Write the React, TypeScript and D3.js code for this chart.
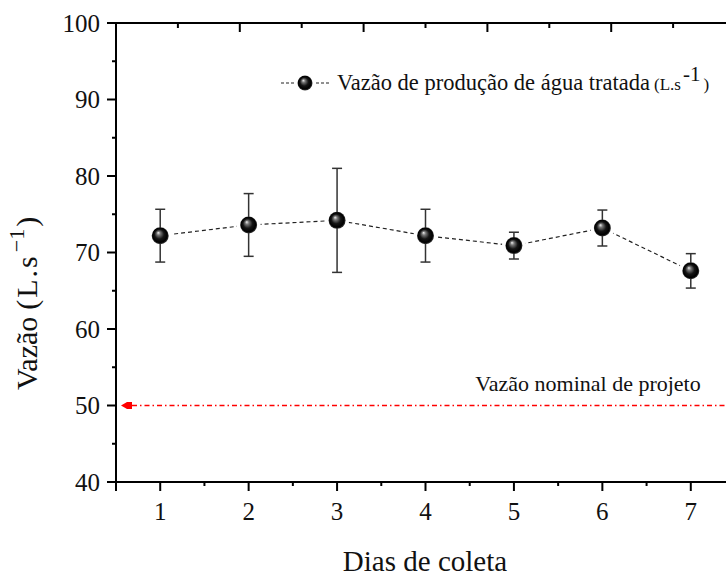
import React from 'react';
import * as d3 from 'd3';

// dias de coleta e vazão média (L/s) com desvio
const days = [1, 2, 3, 4, 5, 6, 7];
const flowMean = [72.2, 73.6, 74.2, 72.2, 70.9, 73.2, 67.6];
const flowErr = [3.45, 4.1, 6.8, 3.45, 1.75, 2.35, 2.25];
const nominalFlow = 50;
const yTicks = [40, 50, 60, 70, 80, 90, 100];

const W = 726;
const H = 576;
const serif = '"Liberation Serif", "Times New Roman", serif';

const App = () => {
  const margin = { left: 116, right: 735, top: 23, bottom: 482 };

  const x = d3.scaleLinear().domain([0.5, 7.5]).range([margin.left, margin.right]);
  const y = d3.scaleLinear().domain([40, 100]).range([margin.bottom, margin.top]);
  // top axis in the original uses its own spacing
  const xTop = d3.scaleLinear().domain([0, 5]).range([margin.left, margin.right]);

  const points = days.map((d, i) => ({ d, v: flowMean[i], e: flowErr[i] }));
  const line = d3
    .line<{ d: number; v: number }>()
    .x((p) => x(p.d))
    .y((p) => y(p.v));

  const yMinor = d3.range(45, 100, 10);
  const xMinor = d3.range(0.5, 7.6, 1);
  const topMajor = [1, 2, 3, 4];
  const topMinor = d3.range(0.5, 5, 1);
  const y50 = y(nominalFlow);
  const x0 = x(0.5);

  return (
    <svg
      width={W}
      height={H}
      style={{ position: 'absolute', left: 0, top: 0, background: '#fff', fontFamily: serif }}
    >
      <defs>
        <radialGradient id="ball" cx="50%" cy="50%" r="50%" fx="38%" fy="32%">
          <stop offset="0%" stopColor="#f0f0f0" />
          <stop offset="22%" stopColor="#777" />
          <stop offset="55%" stopColor="#151515" />
          <stop offset="85%" stopColor="#000" />
          <stop offset="100%" stopColor="#3a3a3a" />
        </radialGradient>
      </defs>

      {/* nominal flow line */}
      <line
        x1={x0 + 16}
        x2={margin.right}
        y1={y50}
        y2={y50}
        stroke="#ff0000"
        strokeWidth={1.3}
        strokeDasharray="5,3,1.5,3"
      />
      <polygon
        points={[
          [x0 + 5, y50],
          [x0 + 11, y50 - 3.5],
          [x0 + 16, y50 - 3.5],
          [x0 + 16, y50 + 3.5],
          [x0 + 11, y50 + 3.5],
        ]
          .map((p) => p.join(','))
          .join(' ')}
        fill="#ff0000"
      />
      <text x={588} y={391} fontSize={22} textAnchor="middle" fill="#111">
        Vazão nominal de projeto
      </text>

      {/* data line */}
      <path
        d={line(points) || ''}
        fill="none"
        stroke="#222"
        strokeWidth={1.2}
        strokeDasharray="4,3"
      />
      {points.map((p, i) => (
        <circle key={'h' + i} cx={x(p.d)} cy={y(p.v)} r={12} fill="#fff" />
      ))}
      {points.map((p, i) => (
        <g key={'e' + i} stroke="#333" strokeWidth={1.5}>
          <line x1={x(p.d)} x2={x(p.d)} y1={y(p.v + p.e)} y2={y(p.v - p.e)} />
          <line x1={x(p.d) - 5} x2={x(p.d) + 5} y1={y(p.v + p.e)} y2={y(p.v + p.e)} />
          <line x1={x(p.d) - 5} x2={x(p.d) + 5} y1={y(p.v - p.e)} y2={y(p.v - p.e)} />
        </g>
      ))}
      {points.map((p, i) => (
        <circle key={'m' + i} cx={x(p.d)} cy={y(p.v)} r={8.5} fill="url(#ball)" />
      ))}

      {/* axes frame */}
      <g stroke="#000" strokeWidth={2} fill="none">
        <line x1={margin.left} x2={margin.left} y1={margin.top} y2={margin.bottom} />
        <line x1={margin.left - 9} x2={margin.right} y1={margin.bottom} y2={margin.bottom} />
        <line x1={margin.left - 9} x2={margin.right} y1={margin.top} y2={margin.top} />
        {yTicks.map((t) => (
          <line key={'yt' + t} x1={margin.left - 9} x2={margin.left} y1={y(t)} y2={y(t)} />
        ))}
        {yMinor.map((t) => (
          <line key={'ym' + t} x1={margin.left - 4} x2={margin.left} y1={y(t)} y2={y(t)} />
        ))}
        {days.map((t) => (
          <line key={'xt' + t} x1={x(t)} x2={x(t)} y1={margin.bottom} y2={margin.bottom + 9} />
        ))}
        {xMinor.map((t) => (
          <line key={'xm' + t} x1={x(t)} x2={x(t)} y1={margin.bottom} y2={margin.bottom + 4} />
        ))}
        <line x1={margin.left} x2={margin.left} y1={margin.bottom} y2={margin.bottom + 9} />
        {topMajor.map((t) => (
          <line key={'tt' + t} x1={xTop(t)} x2={xTop(t)} y1={margin.top} y2={margin.top + 9} />
        ))}
        {topMinor.map((t) => (
          <line key={'tm' + t} x1={xTop(t)} x2={xTop(t)} y1={margin.top} y2={margin.top + 5} />
        ))}
      </g>

      {/* tick labels */}
      {yTicks.map((t) => (
        <text key={'yl' + t} x={100} y={y(t) + 8.5} fontSize={25} textAnchor="end" fill="#111">
          {t}
        </text>
      ))}
      {days.map((t) => (
        <text key={'xl' + t} x={x(t)} y={520} fontSize={25} textAnchor="middle" fill="#111">
          {t}
        </text>
      ))}

      {/* axis titles */}
      <text x={425} y={571} fontSize={29} textAnchor="middle" fill="#111">
        Dias de coleta
      </text>
      <text transform="translate(37,390) rotate(-90)" fontSize={30} fill="#111">
        Vazão
        <tspan dx={7} letterSpacing={2}>(L.s</tspan>
        <tspan fontSize={22} dy={-13} dx={2}>{'\u22121'}</tspan>
        <tspan dy={13} dx={2}>)</tspan>
      </text>

      {/* legend */}
      <line x1={281} x2={330} y1={83} y2={83} stroke="#222" strokeWidth={1.2} strokeDasharray="3,2" />
      <circle cx={305} cy={83} r={10} fill="#fff" />
      <circle cx={305} cy={83} r={7.5} fill="url(#ball)" />
      <text x={337} y={90} fontSize={22.5} fill="#111">
        Vazão de produção de água tratada
        <tspan fontSize={17} dx={4}>(L.s</tspan>
        <tspan fontSize={21} dy={-9} dx={2}>-1</tspan>
        <tspan fontSize={17} dy={9} dx={3}>)</tspan>
      </text>
    </svg>
  );
};

export default App;
